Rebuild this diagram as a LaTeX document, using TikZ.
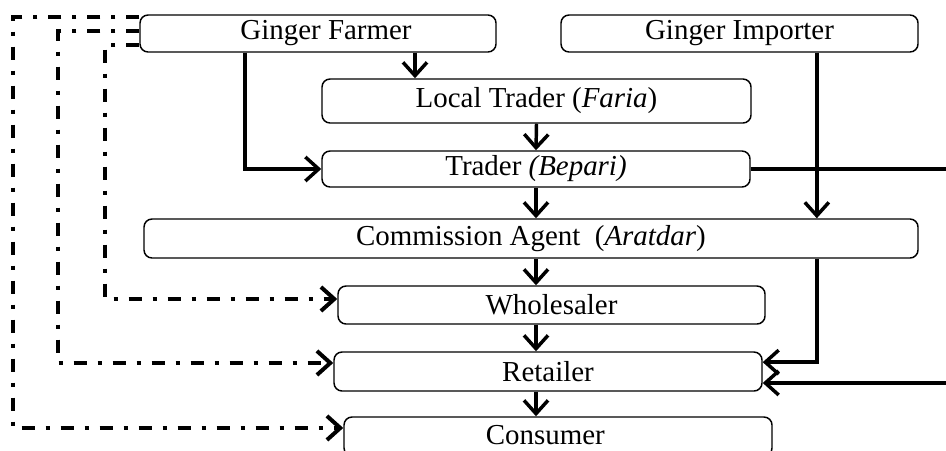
\documentclass[tikz,border=0pt]{standalone}
\usepackage{fontspec}
\setmainfont{Liberation Serif}
\usetikzlibrary{arrows.meta,calc}

\begin{document}
\begin{tikzpicture}[x=0.75pt, y=-0.75pt,
		stage/.style={draw, rounded corners=6pt, line width=1.1pt, inner sep=1pt,
			font=\fontsize{21.7}{26}\selectfont},
		flow/.style={line width=2.6pt, -{Straight Barb[length=10pt,width=18pt]}},
		bypass/.style={line width=3pt, dash pattern=on 9.75pt off 8.25pt on 3pt off 8.25pt,
			-{Straight Barb[length=10pt,width=18pt]}}]
		\clip (0,0) rectangle (946,450);

		% Draw the boxes
		\node[stage, minimum width=267pt, minimum height=27.75pt] (farmer) at (318,33.5) {\hspace*{12pt}Ginger Farmer};
		\node[stage, minimum width=267.75pt, minimum height=27.75pt] (importer) at (739.5,33.5) {Ginger Importer};
		\node[stage, minimum width=321.75pt, minimum height=33pt] (local) at (536.5,101) {Local Trader (\textit{Faria})};
		\node[stage, minimum width=321pt, minimum height=27pt] (trader) at (536,169) {Trader \textit{(Bepari)}};
		\node[stage, minimum width=580.5pt, minimum height=29.25pt] (agent) at (531,238.5) {Commission Agent~~(\textit{Aratdar})\hspace{19pt}};
		\node[stage, minimum width=320.25pt, minimum height=28.5pt] (wholesaler) at (551.5,305) {Wholesaler};
		\node[stage, minimum width=321pt, minimum height=29.25pt] (retailer) at (548,371.5) {Retailer};
		\node[stage, minimum width=321pt, minimum height=29.25pt] (consumer) at (558,436.5) {\hspace{-19pt}\raisebox{3pt}{Consumer}};

		% Draw the main chain
		\draw[flow] ([xshift=72.75pt]farmer.south) -- ([xshift=72.75pt]farmer.south |- local.north);
		\draw[flow] ([xshift=-54.75pt]farmer.south) |- (trader.west);
		\draw[flow] (local.south) -- (trader.north);
		\draw[flow] (trader.south) -- (trader.south |- agent.north);
		\draw[flow] ([xshift=58pt]importer.south) -- ([xshift=58pt]importer.south |- agent.north);
		\draw[flow] (trader.south |- agent.south) -- (trader.south |- wholesaler.north);
		\draw[flow] (wholesaler.south -| trader.south) -- (retailer.north -| trader.south);
		\draw[flow] (retailer.south -| trader.south) -- (consumer.north -| trader.south);

		% Draw the lines on the right side
		\coordinate (rthigh) at ([yshift=7pt]retailer.east);
		\coordinate (rtlow) at ([yshift=-8.6pt]retailer.east);
		\coordinate (edge) at (970,0);
		\draw[flow] ([xshift=214.5pt]agent.south) |- (rthigh);
		\draw[flow] (trader.east) -- (trader.east -| edge) |- (rtlow);

		% Draw the lines on the left side
		\coordinate (lane1) at (13,0);
		\coordinate (lane2) at (58,0);
		\coordinate (lane3) at (105,0);
		\coordinate (f1) at ([yshift=12.4pt]farmer.west);
		\coordinate (f2) at ([yshift=1.9pt]farmer.west);
		\coordinate (f3) at ([yshift=-8.6pt]farmer.west);
		\draw[bypass] (f1) -- (f1 -| lane1) |- ([yshift=6.4pt]consumer.west);
		\draw[bypass] (f2) -- (f2 -| lane2) |- ([yshift=6.4pt]retailer.west);
		\draw[bypass] (f3) -- (f3 -| lane3) |- ([yshift=4.5pt]wholesaler.west);

	\end{tikzpicture}
\end{document}
